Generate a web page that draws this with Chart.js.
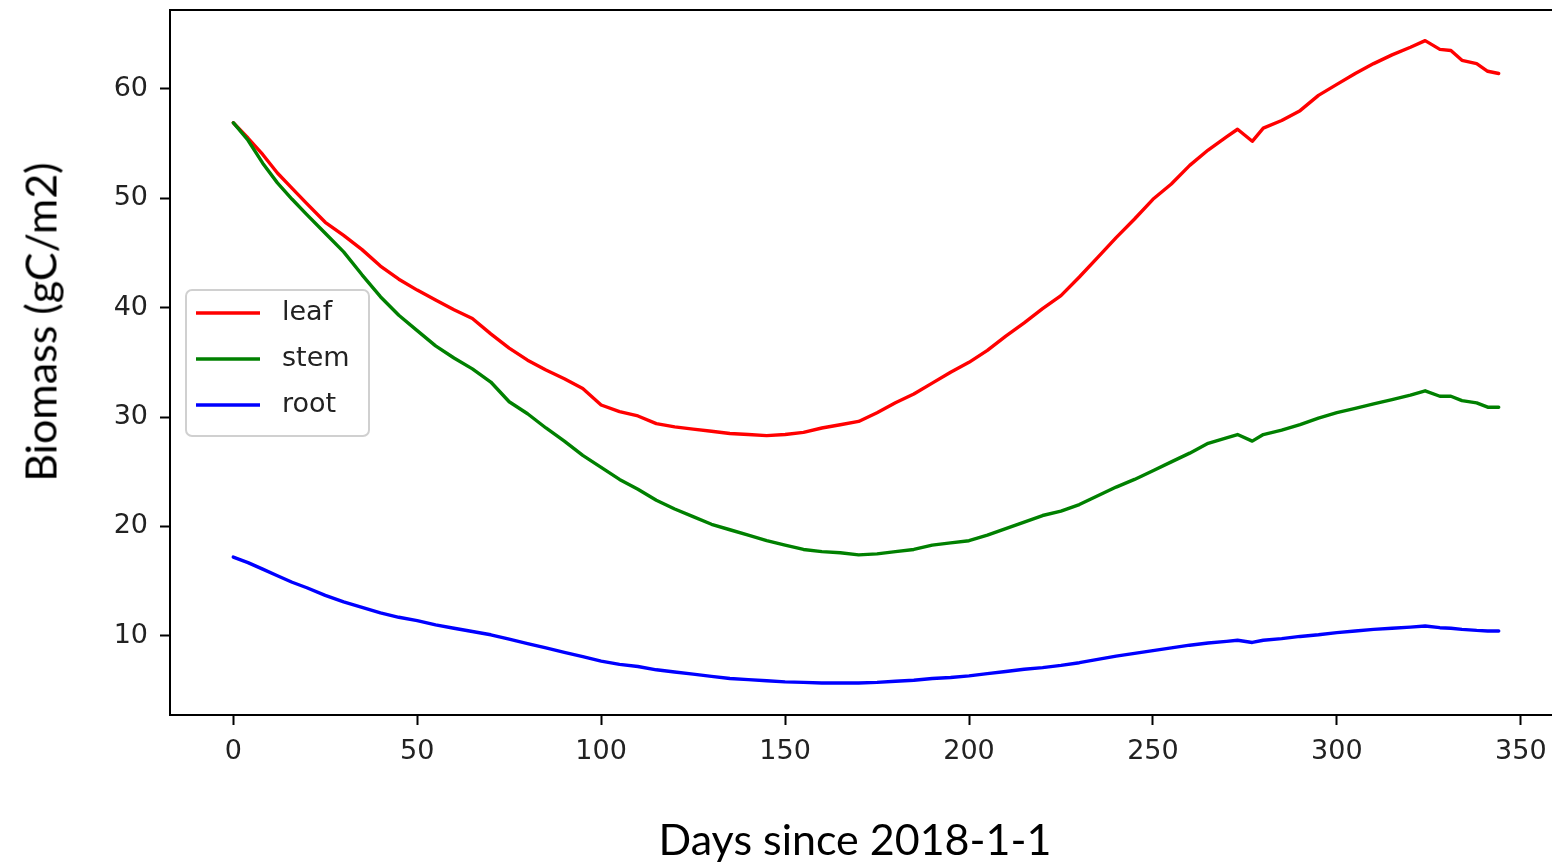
<!DOCTYPE html>
<html>
<head>
<meta charset="utf-8">
<title>Biomass</title>
<script src="https://cdn.jsdelivr.net/npm/chart.js@4.4.1/dist/chart.umd.min.js"></script>
<style>
  html, body { margin: 0; padding: 0; background: #fff; overflow: hidden; }
  #wrap { position: relative; width: 1552px; height: 862px; overflow: hidden; }
  #chart { position: absolute; left: 0; top: 0; }
  .axis-title { position: absolute; font-family: Lato, "Open Sans", sans-serif; font-size: 43px; color: #000; white-space: nowrap; line-height: 1; }
  #xTitle { left: 855px; top: 838px; transform: translate(-50%, -50%); }
  #yTitle { left: 40px; top: 322px; transform: translate(-50%, -50%) rotate(-90deg); }
</style>
</head>
<body>
<div id="wrap">
  <canvas id="chart" width="1562" height="862"></canvas>
  <div class="axis-title" id="xTitle">Days since 2018-1-1</div>
  <div class="axis-title" id="yTitle">Biomass (gC/m2)</div>
</div>
<script>
// days since 2018-1-1
const days = [0, 4, 8, 12, 16, 20, 25, 30, 35, 40, 45, 50, 55, 60, 65, 70, 75, 80, 85, 90,
  95, 100, 105, 110, 115, 120, 125, 130, 135, 140, 145, 150, 155, 160, 165, 170, 175, 180, 185, 190,
  195, 200, 205, 210, 215, 220, 225, 230, 235, 240, 245, 250, 255, 260, 265, 270, 273, 277, 280, 285,
  290, 295, 300, 305, 310, 315, 320, 324, 328, 331, 334, 338, 341, 344];

// biomass, gC/m2
const leaf = [56.9, 55.5, 54.0, 52.3, 50.9, 49.5, 47.8, 46.6, 45.3, 43.8, 42.6, 41.6, 40.7, 39.8, 39.0, 37.6, 36.3, 35.2, 34.3, 33.5,
  32.6, 31.1, 30.5, 30.1, 29.4, 29.1, 28.9, 28.7, 28.5, 28.4, 28.3, 28.4, 28.6, 29.0, 29.3, 29.6, 30.4, 31.3, 32.1, 33.1,
  34.1, 35.0, 36.1, 37.4, 38.6, 39.9, 41.1, 42.8, 44.6, 46.4, 48.1, 49.9, 51.3, 53.0, 54.4, 55.6, 56.3, 55.2, 56.4, 57.1,
  58.0, 59.4, 60.4, 61.4, 62.3, 63.1, 63.8, 64.4, 63.6, 63.5, 62.6, 62.3, 61.6, 61.4];

const stem = [56.9, 55.3, 53.2, 51.4, 49.9, 48.5, 46.8, 45.1, 43.0, 41.0, 39.3, 37.9, 36.5, 35.4, 34.4, 33.2, 31.4, 30.3, 29.0, 27.8,
  26.5, 25.4, 24.3, 23.4, 22.4, 21.6, 20.9, 20.2, 19.7, 19.2, 18.7, 18.3, 17.9, 17.7, 17.6, 17.4, 17.5, 17.7, 17.9, 18.3,
  18.5, 18.7, 19.2, 19.8, 20.4, 21.0, 21.4, 22.0, 22.8, 23.6, 24.3, 25.1, 25.9, 26.7, 27.6, 28.1, 28.4, 27.8, 28.4, 28.8,
  29.3, 29.9, 30.4, 30.8, 31.2, 31.6, 32.0, 32.4, 31.9, 31.9, 31.5, 31.3, 30.9, 30.9];

const root = [17.2, 16.7, 16.1, 15.5, 14.9, 14.4, 13.7, 13.1, 12.6, 12.1, 11.7, 11.4, 11.0, 10.7, 10.4, 10.1, 9.7, 9.3, 8.9, 8.5,
  8.1, 7.7, 7.4, 7.2, 6.9, 6.7, 6.5, 6.3, 6.1, 6.0, 5.9, 5.8, 5.75, 5.7, 5.7, 5.7, 5.75, 5.85, 5.95, 6.1,
  6.2, 6.35, 6.55, 6.75, 6.95, 7.1, 7.3, 7.55, 7.85, 8.15, 8.4, 8.65, 8.9, 9.15, 9.35, 9.5, 9.6, 9.4, 9.6, 9.75,
  9.95, 10.1, 10.3, 10.45, 10.6, 10.7, 10.8, 10.9, 10.75, 10.7, 10.6, 10.5, 10.45, 10.45];

// tick labels
const xTicks = [0, 50, 100, 150, 200, 250, 300, 350];
const yTicks = [10, 20, 30, 40, 50, 60];

// axis limits (matplotlib style 5% margins)
const X_MIN = -17.2, X_MAX = 361.2;
const Y_MIN = 2.77, Y_MAX = 67.2;

const TICK_FONT = { family: 'DejaVu Sans', size: 27 };
const TEXT_COLOR = '#222';
const LINE_W = 3.4;

function toPoints(values) {
  return days.map((d, i) => ({ x: d, y: values[i] }));
}

// box around the plot, like matplotlib spines
const frame = {
  id: 'frame',
  afterDraw(chart) {
    const { ctx, chartArea: a } = chart;
    ctx.save();
    ctx.strokeStyle = '#000';
    ctx.lineWidth = 2;
    ctx.strokeRect(a.left, a.top, a.right - a.left, a.bottom - a.top);
    ctx.restore();
  }
};

// legend drawn inside the axes
const innerLegend = {
  id: 'innerLegend',
  afterDraw(chart) {
    const { ctx, chartArea: a } = chart;
    const sets = chart.data.datasets;
    const x = a.left + 16, y = a.top + 280;
    const w = 183, rowH = 46, h = 146;
    ctx.save();
    ctx.beginPath();
    ctx.roundRect(x, y, w, h, 6);
    ctx.fillStyle = 'rgba(255,255,255,0.8)';
    ctx.fill();
    ctx.strokeStyle = '#d0d0d0';
    ctx.lineWidth = 2;
    ctx.stroke();
    ctx.font = '27px "DejaVu Sans"';
    ctx.textBaseline = 'middle';
    sets.forEach((ds, i) => {
      const cy = y + 23 + i * rowH;
      ctx.beginPath();
      ctx.moveTo(x + 10, cy);
      ctx.lineTo(x + 74, cy);
      ctx.strokeStyle = ds.borderColor;
      ctx.lineWidth = LINE_W;
      ctx.stroke();
      ctx.fillStyle = TEXT_COLOR;
      ctx.fillText(ds.label, x + 96, cy);
    });
    ctx.restore();
  }
};

new Chart(document.getElementById('chart'), {
  type: 'line',
  data: {
    datasets: [
      { label: 'leaf', data: toPoints(leaf), borderColor: '#ff0000', order: 3 },
      { label: 'stem', data: toPoints(stem), borderColor: '#008000', order: 2 },
      { label: 'root', data: toPoints(root), borderColor: '#0000ff', order: 1 }
    ]
  },
  options: {
    responsive: false,
    animation: false,
    layout: { padding: { top: 10, left: 0, right: 0, bottom: 0 } },
    elements: {
      point: { radius: 0 },
      line: { tension: 0, borderWidth: LINE_W, fill: false, borderCapStyle: 'round', borderJoinStyle: 'round' }
    },
    plugins: {
      legend: { display: false },
      tooltip: { enabled: false }
    },
    scales: {
      x: {
        type: 'linear',
        min: X_MIN,
        max: X_MAX,
        afterBuildTicks: ax => { ax.ticks = xTicks.map(v => ({ value: v })); },
        afterFit: ax => { ax.height = 147; ax.paddingLeft = 0; ax.paddingRight = 0; },
        grid: { drawOnChartArea: false, drawTicks: true, tickLength: 10, tickWidth: 2, tickColor: '#000' },
        border: { display: false },
        ticks: { font: TICK_FONT, color: TEXT_COLOR, padding: 11, maxRotation: 0, autoSkip: false }
      },
      y: {
        min: Y_MIN,
        max: Y_MAX,
        afterBuildTicks: ax => { ax.ticks = yTicks.map(v => ({ value: v })); },
        afterFit: ax => { ax.width = 170; ax.paddingTop = 0; ax.paddingBottom = 0; },
        grid: { drawOnChartArea: false, drawTicks: true, tickLength: 10, tickWidth: 2, tickColor: '#000' },
        border: { display: false },
        ticks: { font: TICK_FONT, color: TEXT_COLOR, padding: 12, autoSkip: false }
      }
    }
  },
  plugins: [frame, innerLegend]
});
</script>
</body>
</html>
